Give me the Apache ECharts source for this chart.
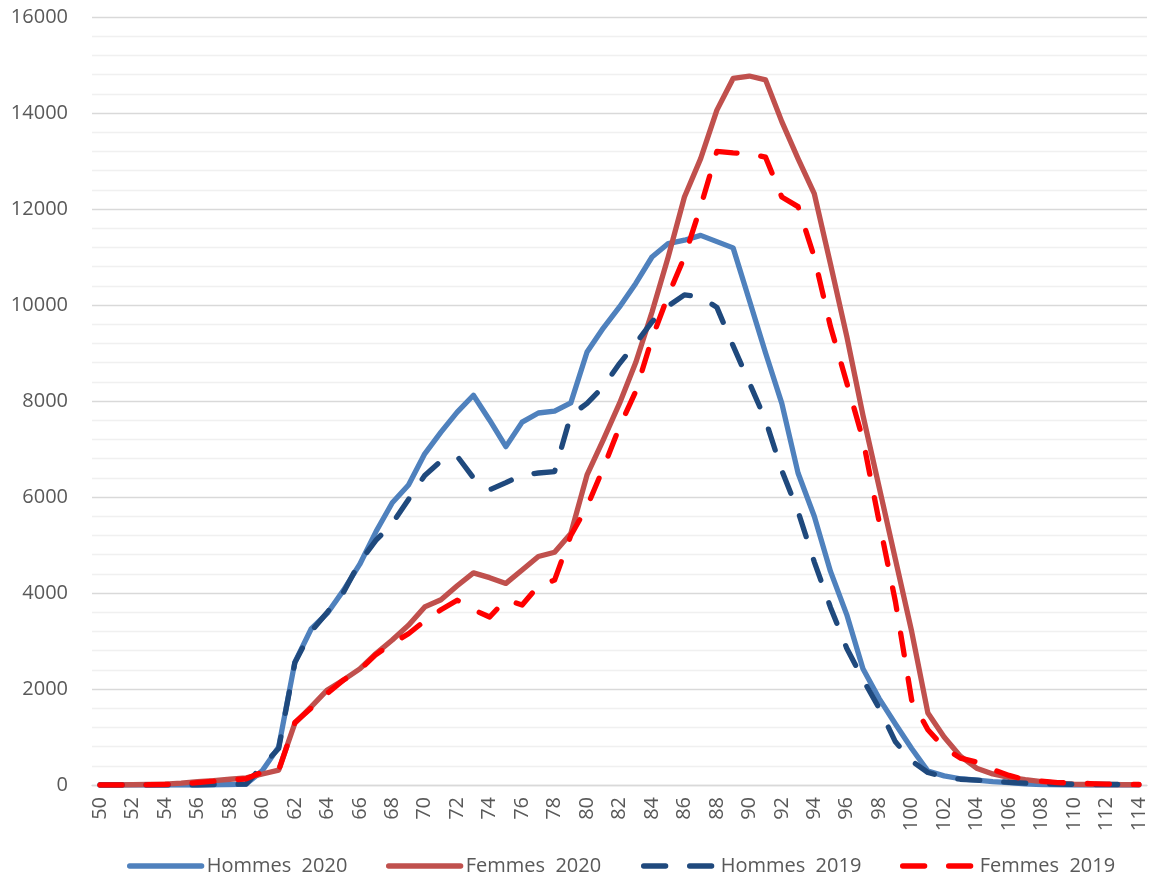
<!DOCTYPE html>
<html>
<head>
<meta charset="utf-8">
<script src="https://cdn.jsdelivr.net/npm/echarts@6/dist/echarts.min.js"></script>
<style>
html,body{margin:0;padding:0;background:#fff;}
#chart{width:1151px;height:877px;}
</style>
</head>
<body>
<div id="chart"></div>
<script>
var ages = ['50','51','52','53','54','55','56','57','58','59','60','61','62','63','64','65','66','67','68','69','70','71','72','73','74','75','76','77','78','79','80','81','82','83','84','85','86','87','88','89','90','91','92','93','94','95','96','97','98','99','100','101','102','103','104','105','106','107','108','109','110','111','112','113','114'];

var hommes2020 = [0,0,0,0,0,0,0,5,10,20,300,790,2560,3250,3580,4060,4600,5280,5880,6250,6900,7350,7770,8120,7600,7050,7560,7750,7790,7960,9020,9520,9960,10450,11000,11280,11350,11450,11320,11190,10100,9000,7950,6500,5600,4450,3550,2420,1800,1270,760,290,190,130,100,70,50,25,10,5,0,0,0,0,0];

var femmes2020 = [0,0,5,10,20,40,70,90,120,150,230,310,1290,1630,1980,2190,2420,2740,3020,3330,3710,3860,4150,4420,4320,4200,4480,4760,4850,5240,6460,7190,7950,8800,9850,11000,12250,13050,14060,14720,14770,14690,13820,13050,12320,10850,9350,7700,6200,4700,3200,1500,1000,600,350,230,160,110,70,40,20,10,10,5,5];

var hommes2019 = [0,0,0,0,0,0,0,10,15,20,400,760,2550,3200,3600,4020,4650,5100,5450,5950,6450,6750,6850,6400,6150,6300,6460,6500,6530,7700,7950,8300,8780,9200,9650,9980,10210,10170,9950,9150,8380,7600,6550,5700,4650,3700,2850,2200,1600,900,500,260,170,120,100,80,55,40,30,20,15,10,10,10,5];

var femmes2019 = [0,0,0,5,10,20,50,80,100,130,270,300,1300,1600,1910,2190,2400,2720,2950,3150,3420,3650,3850,3650,3500,3860,3750,4150,4270,5200,5800,6600,7460,8200,9300,10200,11000,12050,13200,13170,13150,13080,12250,12050,11000,9550,8380,7200,5480,3820,1770,1150,780,560,480,320,200,110,80,50,40,30,20,15,10];

var seriesNames = ['Hommes  2020','Femmes  2020','Hommes  2019','Femmes  2019'];
var yTicks = [0,2000,4000,6000,8000,10000,12000,14000,16000];

var FONT = "'Open Sans', 'Liberation Sans', sans-serif";
var TXT = '#595959';
var LW = 5.3;

var chart = echarts.init(document.getElementById('chart'), null, {renderer:'canvas'});

function lineSeries(name, data, color, dashed) {
  return {
    name: name,
    type: 'line',
    data: data,
    symbol: 'none',
    smooth: false,
    animation: false,
    lineStyle: {
      color: color,
      width: LW,
      type: dashed ? [22, 24] : 'solid',
      cap: 'round',
      join: 'round'
    },
    itemStyle: {color: color}
  };
}

function legendItem(name, left) {
  return {
    data: [name],
    left: left,
    top: 851,
    itemWidth: 72,
    itemHeight: 14,
    itemGap: 0,
    itemStyle: {opacity: 0, borderWidth: 0},
    lineStyle: {width: LW, opacity: 1, cap: 'round'},
    textStyle: {fontFamily: FONT, fontSize: 20, color: TXT},
    selectedMode: false
  };
}

var option = {
  backgroundColor: '#ffffff',
  animation: false,
  grid: {left: 92, right: 4, top: 17, bottom: 92, containLabel: false},
  legend: [
    legendItem(seriesNames[0], 122),
    legendItem(seriesNames[1], 381),
    legendItem(seriesNames[2], 636),
    legendItem(seriesNames[3], 895)
  ],
  xAxis: {
    type: 'category',
    data: ages,
    boundaryGap: true,
    axisTick: {show: false},
    axisLine: {show: true, lineStyle: {color: '#d9d9d9', width: 1.3}},
    axisLabel: {
      interval: 1,
      rotate: 90,
      margin: 12,
      fontFamily: FONT,
      fontSize: 20,
      color: TXT
    },
    splitLine: {show: false}
  },
  yAxis: {
    type: 'value',
    min: yTicks[0],
    max: yTicks[yTicks.length - 1],
    interval: 2000,
    axisLine: {show: false},
    axisTick: {show: false},
    axisLabel: {
      margin: 24,
      fontFamily: FONT,
      fontSize: 20,
      color: TXT,
      formatter: function (v) { return String(v); }
    },
    splitLine: {show: true, lineStyle: {color: '#d9d9d9', width: 1.3}},
    minorTick: {show: false, splitNumber: 5},
    minorSplitLine: {show: true, lineStyle: {color: '#f0f0f0', width: 1.3}}
  },
  series: [
    lineSeries(seriesNames[0], hommes2020, '#4F81BD', false),
    lineSeries(seriesNames[1], femmes2020, '#C0504D', false),
    lineSeries(seriesNames[2], hommes2019, '#1F497D', true),
    lineSeries(seriesNames[3], femmes2019, '#FF0000', true)
  ]
};

chart.setOption(option);
</script>
</body>
</html>
